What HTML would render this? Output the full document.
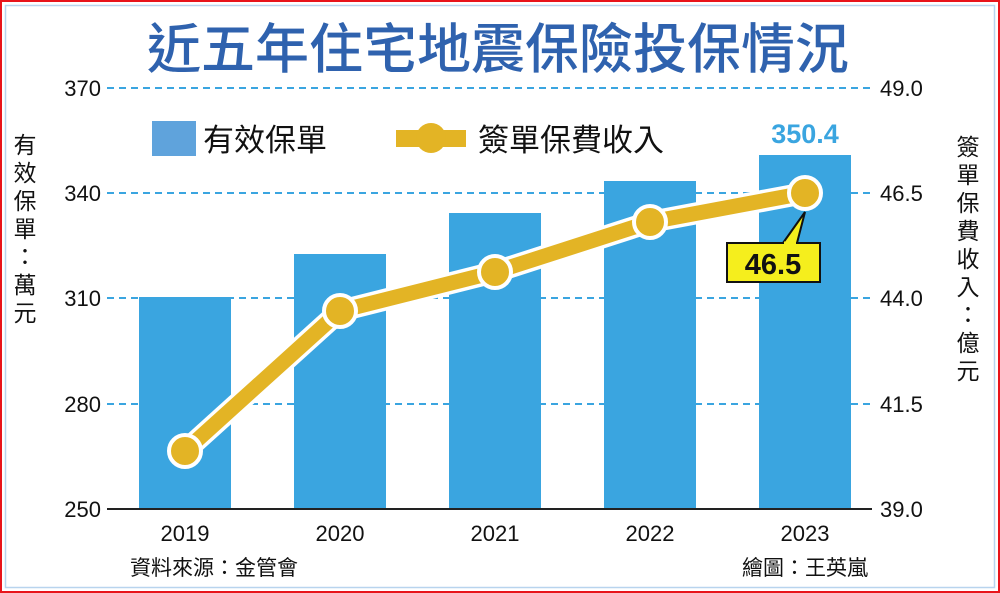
<!DOCTYPE html>
<html><head><meta charset="utf-8"><style>
html,body{margin:0;padding:0;background:#fff}
svg{display:block}
text{font-family:"Liberation Sans","Noto Sans CJK TC",sans-serif}
</style></head><body>
<svg width="1000" height="593" viewBox="0 0 1000 593" xmlns="http://www.w3.org/2000/svg">
<rect x="1" y="1" width="998" height="591" fill="#fff" stroke="#e8141b" stroke-width="2"/>
<rect x="5.5" y="5.5" width="989" height="582" fill="none" stroke="#b8d4ee" stroke-width="1.5"/>
<text x="498" y="68" text-anchor="middle" font-size="54" font-weight="500" fill="#2f62ae" font-family="'Noto Sans CJK TC',sans-serif">近五年住宅地震保險投保情況</text>
<g stroke="#3aa5e0" stroke-width="2" stroke-dasharray="7,5">
<line x1="107" y1="88" x2="872" y2="88"/>
<line x1="107" y1="193" x2="872" y2="193"/>
<line x1="107" y1="298" x2="872" y2="298"/>
<line x1="107" y1="404" x2="872" y2="404"/>
</g>
<g fill="#3aa5e0">
<rect x="139" y="297" width="92" height="212"/>
<rect x="294" y="254" width="92" height="255"/>
<rect x="449" y="213" width="92" height="296"/>
<rect x="604" y="181" width="92" height="328"/>
<rect x="759" y="155" width="92" height="354"/>
</g>
<line x1="107" y1="509" x2="872" y2="509" stroke="#222" stroke-width="2"/>
<g font-size="22" fill="#111">
<text x="101" y="96" text-anchor="end">370</text>
<text x="101" y="201" text-anchor="end">340</text>
<text x="101" y="306" text-anchor="end">310</text>
<text x="101" y="412" text-anchor="end">280</text>
<text x="101" y="517" text-anchor="end">250</text>
<text x="880" y="96">49.0</text>
<text x="880" y="201">46.5</text>
<text x="880" y="306">44.0</text>
<text x="880" y="412">41.5</text>
<text x="880" y="517">39.0</text>
<text x="185" y="541" text-anchor="middle">2019</text>
<text x="340" y="541" text-anchor="middle">2020</text>
<text x="495" y="541" text-anchor="middle">2021</text>
<text x="650" y="541" text-anchor="middle">2022</text>
<text x="805" y="541" text-anchor="middle">2023</text>
</g>
<g font-size="21" fill="#111" font-family="'Noto Sans CJK TC',sans-serif">
<text x="130" y="575">資料來源：金管會</text>
<text x="868" y="575" text-anchor="end">繪圖：王英嵐</text>
</g>
<g font-size="23" fill="#111" font-family="'Noto Sans CJK TC',sans-serif" text-anchor="middle">
<text x="25" y="153">有</text><text x="25" y="181">效</text><text x="25" y="209">保</text><text x="25" y="237">單</text><text x="25" y="265">：</text><text x="25" y="293">萬</text><text x="25" y="321">元</text>
<text x="968" y="155">簽</text><text x="968" y="183">單</text><text x="968" y="211">保</text><text x="968" y="239">費</text><text x="968" y="267">收</text><text x="968" y="295">入</text><text x="968" y="323">：</text><text x="968" y="351">億</text><text x="968" y="379">元</text>
</g>
<rect x="152" y="121" width="44" height="35" fill="#5fa3dc"/>
<text x="203" y="151" font-size="31" fill="#111" font-family="'Noto Sans CJK TC',sans-serif">有效保單</text>
<rect x="396" y="130" width="70" height="17" fill="#e3b425"/>
<circle cx="431" cy="138" r="15" fill="#e3b425"/>
<text x="478" y="151" font-size="31" fill="#111" font-family="'Noto Sans CJK TC',sans-serif">簽單保費收入</text>
<text x="805" y="143" text-anchor="middle" font-size="27" font-weight="bold" fill="#3aa5e0">350.4</text>
<polyline points="185,451 340,311 495,272 650,222 805,193" fill="none" stroke="#fff" stroke-width="22" stroke-linejoin="round"/>
<polyline points="185,451 340,311 495,272 650,222 805,193" fill="none" stroke="#e3b425" stroke-width="15" stroke-linejoin="round"/>
<g fill="#e3b425" stroke="#fff" stroke-width="4">
<circle cx="185" cy="451" r="16"/><circle cx="340" cy="311" r="16"/><circle cx="495" cy="272" r="16"/><circle cx="650" cy="222" r="16"/><circle cx="805" cy="193" r="16"/>
</g>
<polygon points="783,243 805,212 797,243" fill="#f5ee1d" stroke="#111" stroke-width="2"/>
<rect x="727" y="243" width="93" height="39" fill="#f5ee1d" stroke="#111" stroke-width="2"/>
<line x1="784" y1="243" x2="796" y2="243" stroke="#f5ee1d" stroke-width="3"/>
<text x="773" y="274" text-anchor="middle" font-size="29" font-weight="bold" fill="#111">46.5</text>
</svg>
</body></html>
